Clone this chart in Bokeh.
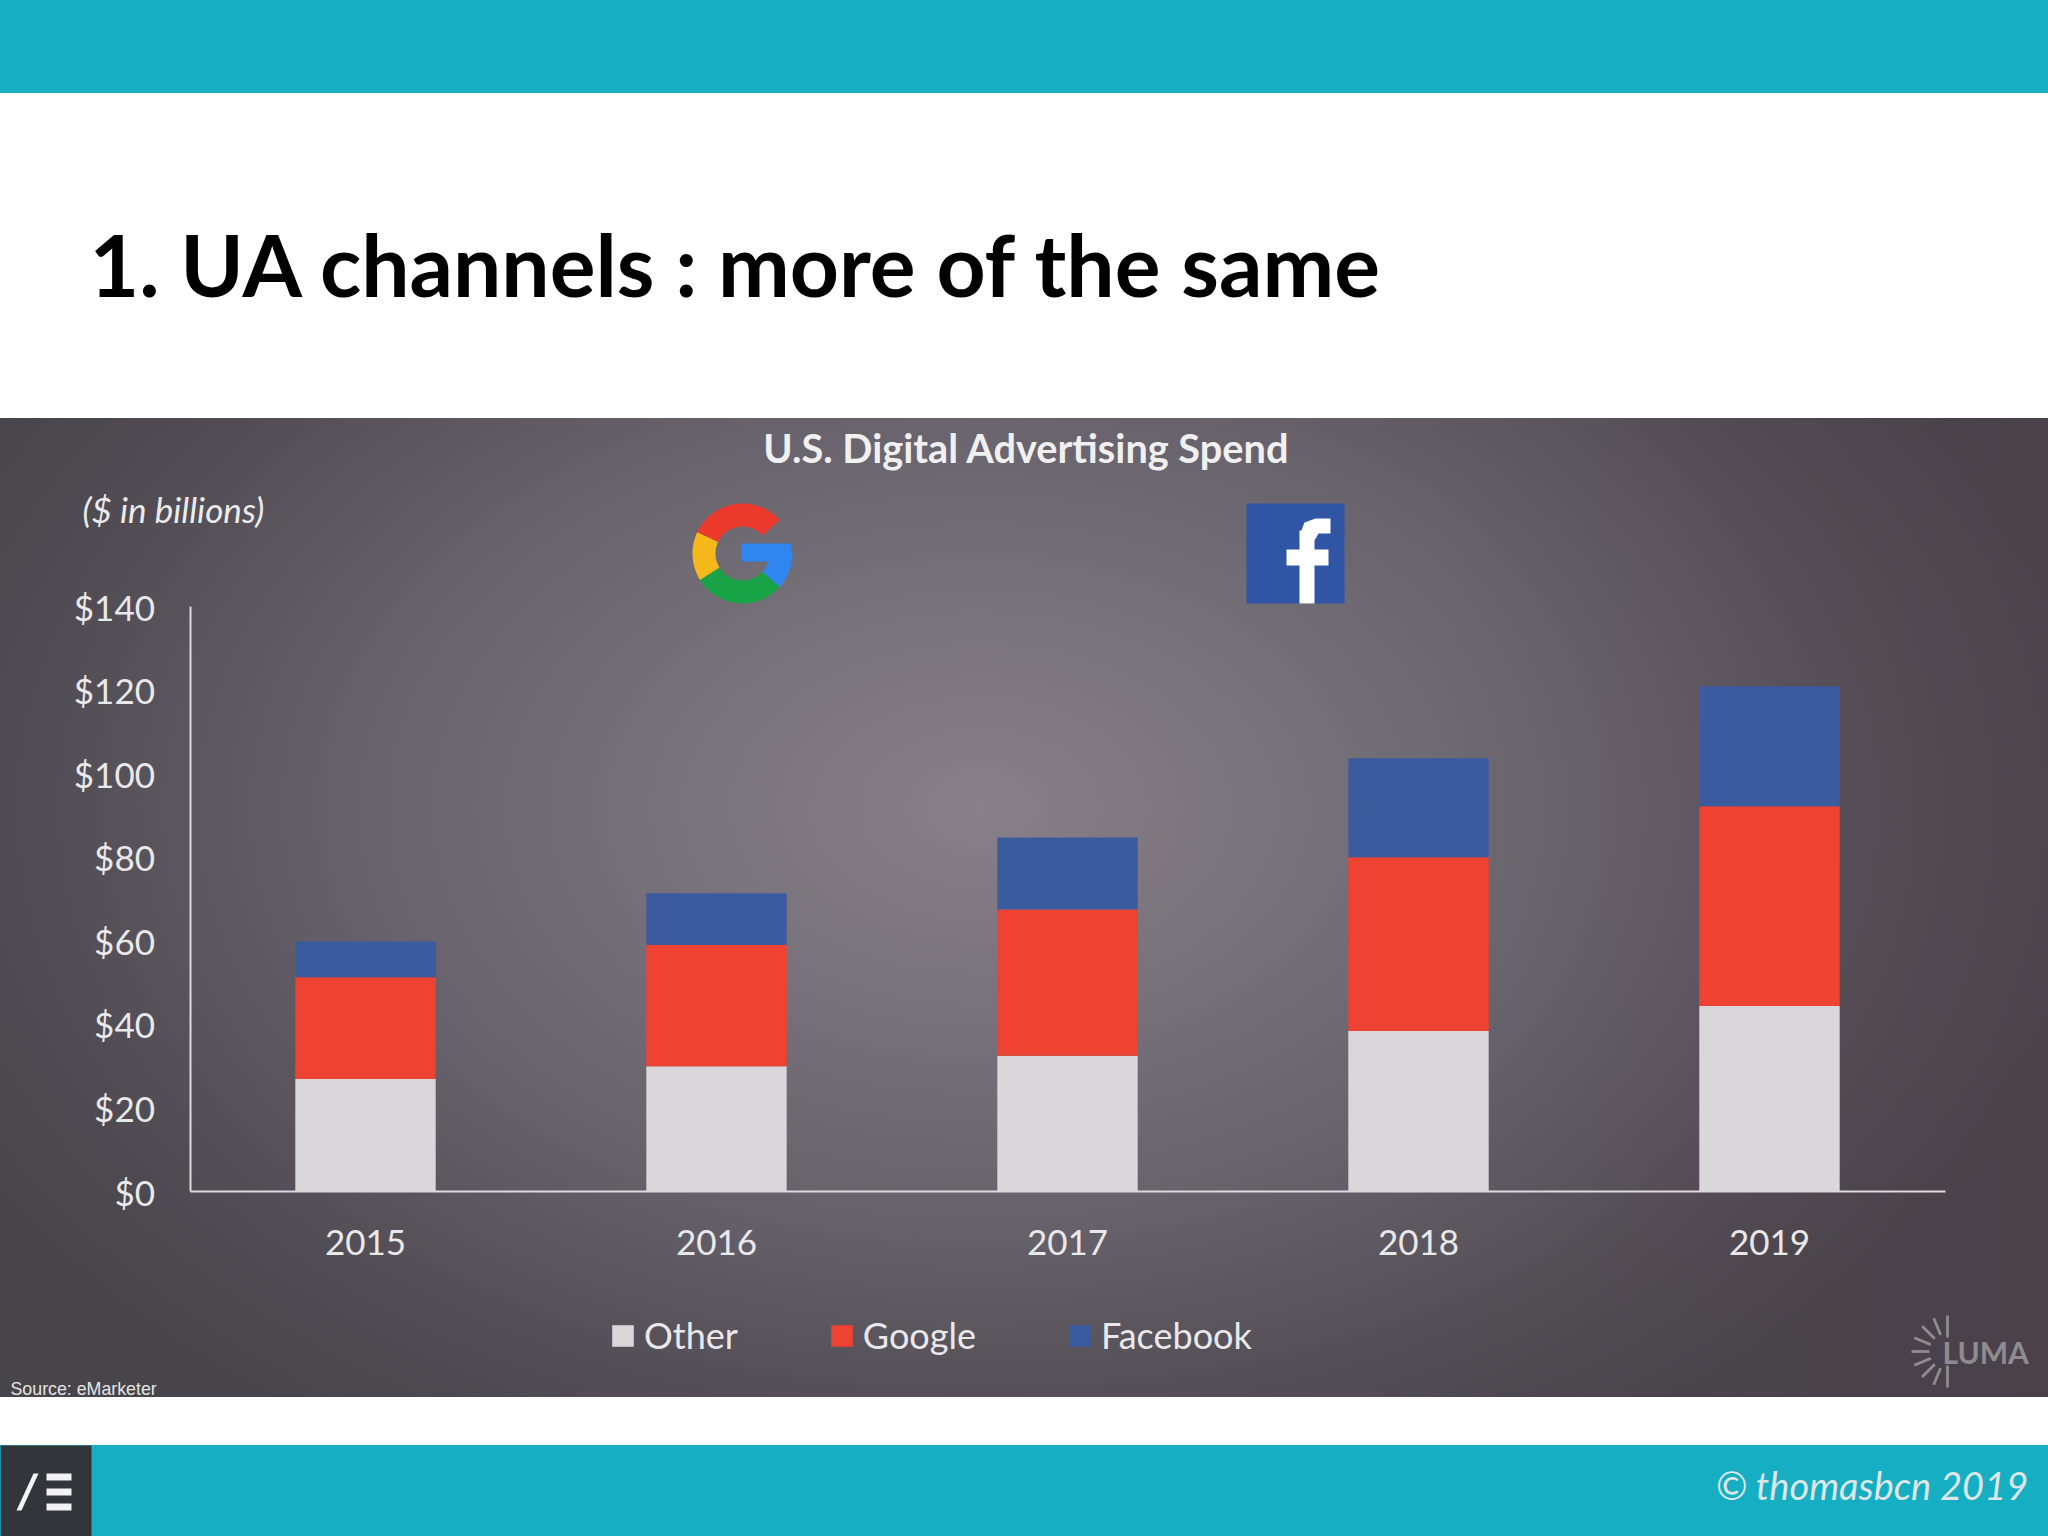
import math
from bokeh.embed import file_html
from bokeh.resources import INLINE
from bokeh.plotting import figure
from bokeh.models import (BoxAnnotation, PolyAnnotation, Label, Legend, LegendItem,
                          FixedTicker, Range1d, LinearAxis)

years = [2015, 2016, 2017, 2018, 2019]
other = [26.9, 30.0, 32.5, 38.4, 44.4]
google = [24.4, 29.0, 35.0, 41.6, 47.8]
facebook = [8.5, 12.4, 17.2, 23.7, 28.7]
y_ticks = [0, 20, 40, 60, 80, 100, 120, 140]
series = ["Other", "Google", "Facebook"]
colors = ["#d9d7d9", "#ee4232", "#3c5a9e"]

W, H = 2048, 1536
X_PER_YEAR = 351.0      # px between years
Y_PER_UNIT = 585.0 / 140
X0_PX, Y0_PX = 365.0, 1191.0  # pixel of first year's centre and of $0

TEAL = "#15aec3"
bg = ("linear-gradient(%s,%s) 0 0/100%% 93px no-repeat,"
      "linear-gradient(%s,%s) 0 1445px/100%% 91px no-repeat,"
      "linear-gradient(to right,rgba(90,50,70,0) 70%%,rgba(90,50,70,.16) 100%%) 0 418px/100%% 979px no-repeat,"
      "radial-gradient(ellipse 1150px 760px at 980px 390px,#888088 0%%,#77717a 28%%,#66616a 55%%,#524d54 82%%,#47444a 100%%) 0 418px/100%% 979px no-repeat,"
      "#ffffff") % (TEAL, TEAL, TEAL, TEAL)

x_start = years[0] - X0_PX / X_PER_YEAR
y_start = -(H - Y0_PX) / Y_PER_UNIT
p = figure(width=W, height=H, output_backend="svg", toolbar_location=None,
           x_range=Range1d(x_start, x_start + W / X_PER_YEAR),
           y_range=Range1d(y_start, y_start + H / Y_PER_UNIT),
           x_axis_location=None, y_axis_location=None,
           min_border=0, background_fill_alpha=0, border_fill_alpha=0, outline_line_color=None,
           styles={"background": bg})
p.grid.visible = False

r = p.vbar_stack(series, x="x", width=0.4, color=colors, line_color=None,
                 source=dict(x=years, Other=other, Google=google, Facebook=facebook))

xaxis = LinearAxis(ticker=FixedTicker(ticks=years), fixed_location=0,
                   bounds=(years[0] - 0.5, years[-1] + 0.5), major_label_standoff=32)
yaxis = LinearAxis(ticker=FixedTicker(ticks=y_ticks), fixed_location=years[0] - 0.5,
                   bounds=(0, 140), major_label_standoff=29,
                   major_label_overrides={v: f"${v}" for v in y_ticks})
p.add_layout(xaxis, "below")
p.add_layout(yaxis, "left")
for ax in (xaxis, yaxis):
    ax.axis_line_color = "#dcdadc"
    ax.axis_line_width = 2
    ax.major_tick_line_color = None
    ax.minor_tick_line_color = None
    ax.major_label_text_color = "#e9e8ea"
    ax.major_label_text_font = "Lato"
    ax.major_label_text_font_size = "35px"
xaxis.formatter.use_scientific = False

legend = Legend(items=[LegendItem(label=s, renderers=[g]) for s, g in zip(series, r)],
                orientation="horizontal", location=(609, 179),
                background_fill_alpha=0, border_line_color=None, padding=0, margin=0,
                glyph_width=27, glyph_height=27, label_standoff=8, spacing=90,
                label_text_color="#e9e8ea", label_text_font="Lato", label_text_font_size="36px")
p.add_layout(legend, "center")


def text(x, y, t, size, color, font="Lato", style="normal", align="left", baseline="middle"):
    p.add_layout(Label(x=x, y=y, x_units="canvas", y_units="canvas", text=t,
                       text_font=font, text_font_size=size, text_font_style=style,
                       text_color=color, text_align=align, text_baseline=baseline))


def box(l, t, r_, b, color):
    p.add_layout(BoxAnnotation(left=l, right=r_, top=t, bottom=b,
                               left_units="canvas", right_units="canvas",
                               top_units="canvas", bottom_units="canvas",
                               fill_color=color, fill_alpha=1, line_color=None, level="annotation"))


def poly(xs, ys, color):
    p.add_layout(PolyAnnotation(xs=list(xs), ys=list(ys), xs_units="canvas", ys_units="canvas",
                                fill_color=color, fill_alpha=1, line_color=None, level="annotation"))


def arc(cx, cy, r0, r1, a0, a1, color):
    n = 24
    ang = [math.radians(a0 + (a1 - a0) * i / n) for i in range(n + 1)]
    xs = [cx + r1 * math.cos(a) for a in ang] + [cx + r0 * math.cos(a) for a in reversed(ang)]
    ys = [cy - r1 * math.sin(a) for a in ang] + [cy - r0 * math.sin(a) for a in reversed(ang)]
    poly(xs, ys, color)


text(89, 263, "1. UA channels : more of the same", "85.7px", "#000000", style="bold")
text(1026, 447, "U.S. Digital Advertising Spend", "39.7px", "#f1f0f1", style="bold", align="center")
text(82, 508, "($ in billions)", "35px", "#ecebec", style="italic")
text(10, 1388, "Source: eMarketer", "17.8px", "#e6e5e6", font="Liberation Sans")
text(2028, 1484, "\u00a9 thomasbcn 2019", "38px", "#dfe6e8", style="italic", align="right")
text(1942, 1351, "LUMA", "30px", "#8f8b90", style="bold")

# Google logo
gx, gy = 742, 553
arc(gx, gy, 27, 50, 42, 155, "#ec3a2c")
arc(gx, gy, 27, 50, 155, 212, "#f6b81a")
arc(gx, gy, 27, 50, 212, 318, "#18a346")
arc(gx, gy, 27, 50, 318, 362, "#2f86f0")
box(741, 543, 791, 561, "#2f86f0")

# Facebook logo
box(1246, 503, 1344, 603, "#2f55a4")
box(1299, 530, 1314, 603, "#ffffff")
box(1286, 549, 1328, 565, "#ffffff")
poly([1299, 1304, 1315, 1330, 1330, 1318, 1314], [535, 522, 518, 518, 533, 533, 540], "#ffffff")

# Luma spinner
for i in range(9):
    a = math.radians(90 + i * 22.5)
    ca, sa = math.cos(a), math.sin(a)
    r0, r1 = 18 if i % 8 else 14, 36
    nx, ny = -sa * 1.4, ca * 1.4
    poly([1947 + r0 * ca + nx, 1947 + r1 * ca + nx, 1947 + r1 * ca - nx, 1947 + r0 * ca - nx],
         [1351 - r0 * sa - ny, 1351 - r1 * sa - ny, 1351 - r1 * sa + ny, 1351 - r0 * sa + ny], "#8f8b90")

# Footer logo
box(0, 1445, 91, 1536, "#33353b")
poly([33, 38, 21, 16], [1473, 1473, 1510, 1510], "#f2f2f4")
box(46, 1473, 71, 1480, "#f2f2f4")
box(46, 1488, 71, 1495, "#f2f2f4")
box(46, 1503, 71, 1510, "#f2f2f4")

open("out.html", "w").write(file_html(p, INLINE))
